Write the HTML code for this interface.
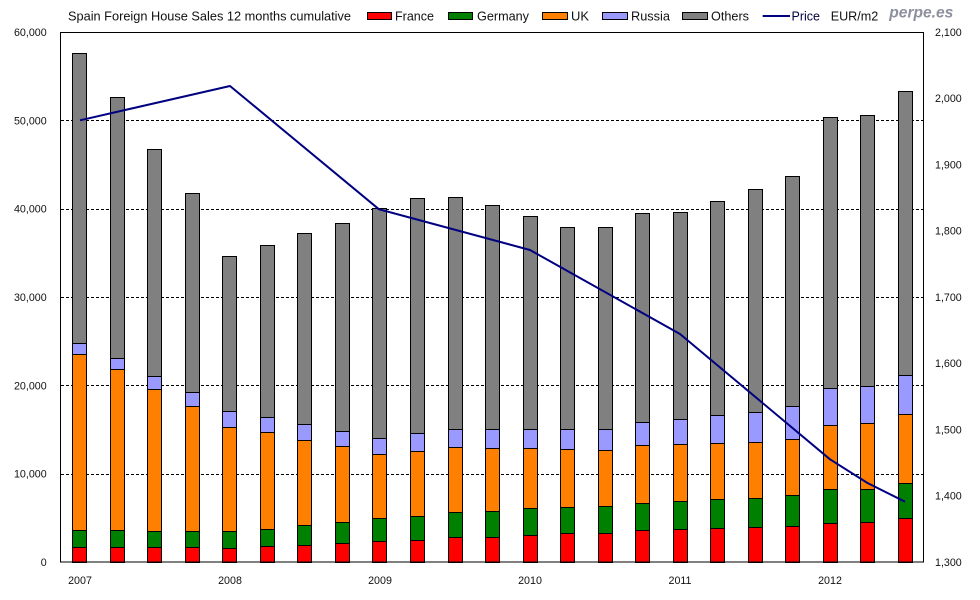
<!DOCTYPE html>
<html><head><meta charset="utf-8"><style>
html,body{margin:0;padding:0;background:#fff;}
svg{display:block;}
text{font-family:"Liberation Sans",Arial,sans-serif;}
</style></head><body>
<svg width="980" height="600" viewBox="0 0 980 600" xmlns="http://www.w3.org/2000/svg">
<rect width="980" height="600" fill="#fff"/>
<!-- gridlines -->
<g stroke="#000" stroke-width="1" stroke-dasharray="3,2" fill="none">
<line x1="61" y1="120.5" x2="923" y2="120.5"/>
<line x1="61" y1="209.5" x2="923" y2="209.5"/>
<line x1="61" y1="297.5" x2="923" y2="297.5"/>
<line x1="61" y1="385.5" x2="923" y2="385.5"/>
<line x1="61" y1="474.5" x2="923" y2="474.5"/>
</g>
<g id="bars" stroke="#000" stroke-width="1"></g>
<!-- plot box -->
<rect x="60.5" y="32.5" width="863" height="529.5" fill="none" stroke="#000" stroke-width="1"/>
<!-- price line -->
<polyline fill="none" stroke="#000080" stroke-width="2" stroke-linejoin="round" points="80,120.3 230,86 379,209.3 530,250 680,334 830,459.3 867.5,483 905,501.7"/>
<!-- left ticks -->
<g font-size="10.7" fill="#111" text-anchor="end">
<text x="46.7" y="36">60,000</text>
<text x="46.7" y="124.3">50,000</text>
<text x="46.7" y="212.7">40,000</text>
<text x="46.7" y="301">30,000</text>
<text x="46.7" y="389.3">20,000</text>
<text x="46.7" y="477.7">10,000</text>
<text x="46.7" y="566">0</text>
</g>
<g font-size="10.7" fill="#111" text-anchor="start">
<text x="935" y="36">2,100</text>
<text x="935" y="102.2">2,000</text>
<text x="935" y="168.5">1,900</text>
<text x="935" y="234.7">1,800</text>
<text x="935" y="301">1,700</text>
<text x="935" y="367.2">1,600</text>
<text x="935" y="433.5">1,500</text>
<text x="935" y="499.7">1,400</text>
<text x="935" y="566">1,300</text>
</g>
<g font-size="10.7" fill="#111" text-anchor="middle">
<text x="80" y="584">2007</text>
<text x="230" y="584">2008</text>
<text x="380" y="584">2009</text>
<text x="530" y="584">2010</text>
<text x="680" y="584">2011</text>
<text x="830" y="584">2012</text>
</g>
<!-- title & legend -->
<g font-size="13" fill="#111">
<text x="68" y="20.5" textLength="283" lengthAdjust="spacingAndGlyphs">Spain Foreign House Sales 12 months cumulative</text>
<rect x="367.5" y="12.5" width="24" height="7" fill="#ff0000" stroke="#000"/>
<text x="395" y="20.5" textLength="39" lengthAdjust="spacingAndGlyphs">France</text>
<rect x="448.5" y="12.5" width="24" height="7" fill="#008000" stroke="#000"/>
<text x="477" y="20.5" textLength="52" lengthAdjust="spacingAndGlyphs">Germany</text>
<rect x="542.5" y="12.5" width="25" height="7" fill="#ff8000" stroke="#000"/>
<text x="571" y="20.5" textLength="18" lengthAdjust="spacingAndGlyphs">UK</text>
<rect x="602.5" y="12.5" width="25" height="7" fill="#9999ff" stroke="#000"/>
<text x="631" y="20.5" textLength="39" lengthAdjust="spacingAndGlyphs">Russia</text>
<rect x="682.5" y="12.5" width="25" height="7" fill="#808080" stroke="#000"/>
<text x="711" y="20.5" textLength="38" lengthAdjust="spacingAndGlyphs">Others</text>
<line x1="762.7" y1="16" x2="790" y2="16" stroke="#000080" stroke-width="2"/>
<text x="791.5" y="20.5" textLength="28.5" lengthAdjust="spacingAndGlyphs" fill="#000040">Price</text>
<text x="830.7" y="20.5" textLength="47.6" lengthAdjust="spacingAndGlyphs">EUR/m2</text>
</g>
<text x="889.3" y="17.5" font-size="15.5" font-weight="bold" font-style="italic" fill="#8c8f9e" textLength="64" lengthAdjust="spacingAndGlyphs">perpe.es</text>
</svg>
<script>
(function(){
var d=[
[53.3,343.3,354.3,530,547.3],
[97.3,358.3,369.3,530,547.3],
[149,376.3,389.3,531,547.3],
[193.3,392.3,406.3,531,547.3],
[256.3,411.3,427.3,531,548.3],
[245.3,417.3,432.3,529.3,546.3],
[233.3,424.3,440.3,525.3,545.3],
[223.3,431.3,446.3,522.3,543.3],
[208.3,438.3,454.3,518.3,541.3],
[198.3,433.3,451.3,516.3,540.3],
[197.3,429.3,447.3,512.3,537.3],
[205.3,429.3,448.3,511.3,537.3],
[216.3,429.3,448.3,508.3,535.3],
[227.3,429.3,449.3,507.3,533.3],
[227.3,429.3,450.3,506.3,533.3],
[213.3,422.3,445.3,503.3,530.3],
[212.3,419.3,444.3,501.3,529.3],
[201.3,415.3,443.3,499.3,528.3],
[189.3,412.3,442.3,498.3,527.3],
[176.3,406.3,439.3,495.3,526.3],
[117.3,388.3,425.3,489.3,523.3],
[115.3,386.3,423.3,489.3,522.3],
[91.3,375.3,414.3,483.3,518.3]];
var cols=["#808080","#9999ff","#ff8000","#008000","#ff0000"];
var g=document.getElementById("bars");
var ns="http://www.w3.org/2000/svg";
for(var k=0;k<d.length;k++){
 var L=Math.round(72.3+k*37.52);
 var b=d[k].concat([562]);
 for(var s=0;s<5;s++){
  var y1=Math.floor(b[s])+0.5, y2=Math.floor(b[s+1])+0.5;
  var r=document.createElementNS(ns,"rect");
  r.setAttribute("x",L+0.5);r.setAttribute("width",14);
  r.setAttribute("y",y1);r.setAttribute("height",Math.max(0,y2-y1));
  r.setAttribute("fill",cols[s]);
  g.appendChild(r);
 }
}
})();
</script>
</body></html>
